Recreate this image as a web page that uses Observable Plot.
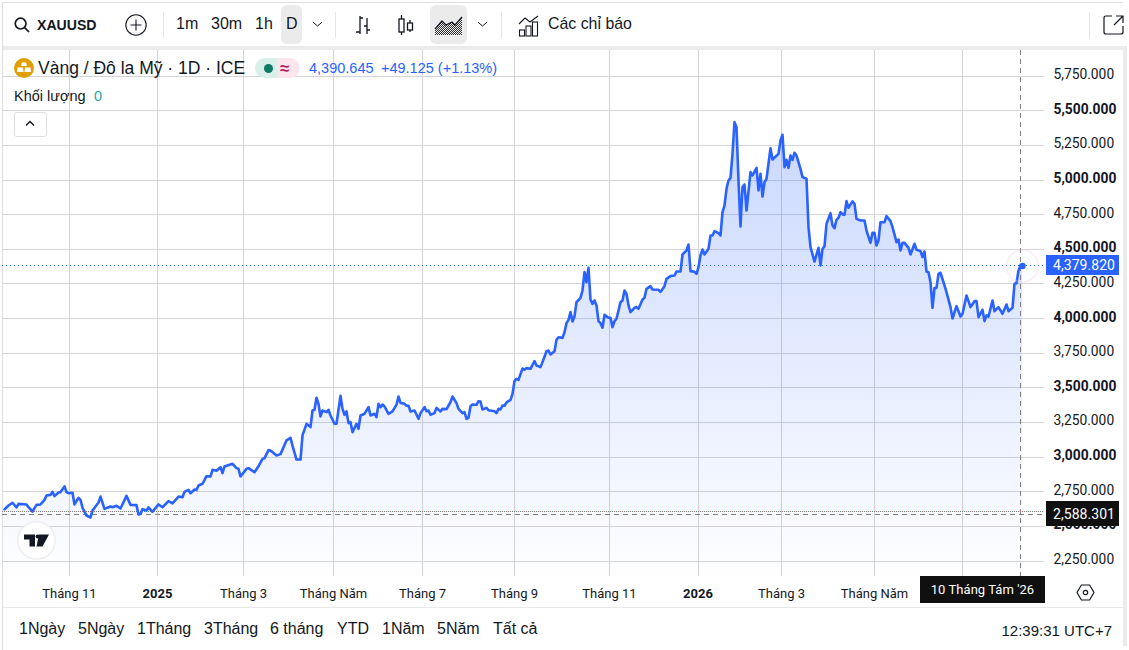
<!DOCTYPE html>
<html lang="vi">
<head>
<meta charset="utf-8">
<title>XAUUSD</title>
<script src="https://cdn.jsdelivr.net/npm/d3@7"></script>
<script src="https://cdn.jsdelivr.net/npm/@observablehq/plot@0.6"></script>
<style>
html,body{margin:0;padding:0;background:#fff;overflow:hidden}
body{font-family:"Liberation Sans",Arial,sans-serif;color:#131722}
#wrap{position:relative;width:1129px;height:650px;overflow:hidden}
#wrap svg{display:block}
#chart{position:absolute;left:0;top:50px}
.a{position:absolute;white-space:nowrap;line-height:1}
.box{position:absolute}
.btn{font-size:16px;top:16px}
.rng{font-size:16px;top:621px}
.tag{position:absolute;display:flex;align-items:center;justify-content:center;color:#fff;font:14px Roboto,sans-serif;letter-spacing:.05px;padding-left:3px;box-sizing:border-box}
.ic{position:absolute;overflow:visible}
</style>
</head>
<body>
<div id="wrap">
  <div class="box" style="left:2px;top:2px;width:1121px;height:1px;background:#e0e0e0"></div>
  <div class="box" style="left:2px;top:46px;width:1125px;height:4px;background:#ebebeb"></div>
  <div class="box" style="left:1123px;top:46px;width:4px;height:600px;background:#ebebeb"></div>
  <div class="box" style="left:2px;top:2px;width:1px;height:648px;background:#e0e0e0"></div>
  <div id="chart"></div>
  <div class="box" style="left:3px;top:607px;width:1120px;height:1px;background:#e8e8e8"></div>

  <svg class="ic" style="left:14px;top:17px" width="16" height="16" viewBox="0 0 16 16" fill="none" stroke="#131722" stroke-width="1.7"><circle cx="6.6" cy="6.6" r="5.4"/><path d="M10.6 10.6L15 15"/></svg>
  <div class="a" style="left:37px;top:18px;font-size:14.1px;font-weight:700">XAUUSD</div>
  <svg class="ic" style="left:125px;top:14px" width="22" height="22" viewBox="0 0 22 22" fill="none" stroke="#131722" stroke-width="1.1"><circle cx="11" cy="11" r="10.2"/><path d="M11 5.5V16.5M5.5 11H16.5"/></svg>
  <div class="box" style="left:163px;top:12px;width:1px;height:26px;background:#e6e6e6"></div>
  <div class="a btn" style="left:176px">1m</div>
  <div class="a btn" style="left:211px">30m</div>
  <div class="a btn" style="left:255px">1h</div>
  <div class="box" style="left:281px;top:5px;width:21px;height:39px;background:#ebebeb;border-radius:6px"></div>
  <div class="a btn" style="left:286px">D</div>
  <svg class="ic" style="left:312px;top:21px" width="11" height="7" fill="none" stroke="#131722" stroke-width="1"><path d="M1 1.2L5.5 5L10 1.2"/></svg>
  <div class="box" style="left:335px;top:12px;width:1px;height:26px;background:#e6e6e6"></div>
  <svg class="ic" style="left:354px;top:15px" width="18" height="21" fill="none" stroke="#131722" stroke-width="1.3"><path d="M6 1V19M6 3H9M2 17H6M13 3V19M10 11H13M13 15H16"/></svg>
  <svg class="ic" style="left:397px;top:14px" width="18" height="22" fill="none" stroke="#131722" stroke-width="1.3"><path d="M4.5 1V21M13 6V18"/><rect x="2" y="5" width="5" height="13" fill="#fff"/><rect x="10.5" y="9" width="5" height="7" fill="#fff"/></svg>
  <div class="box" style="left:430px;top:5px;width:37px;height:39px;background:#ebebeb;border-radius:6px"></div>
  <svg class="ic" style="left:434px;top:15px" width="29" height="21"><defs><pattern id="dit" width="2" height="2" patternUnits="userSpaceOnUse"><rect width="1" height="1" fill="#333"/><rect x="1" y="1" width="1" height="1" fill="#333"/></pattern></defs><path d="M1 14L8 6L12 10L18 7L21 10L28 2V20H1Z" fill="url(#dit)"/><path d="M1 14L8 6L12 10L18 7L21 10L28 2" fill="none" stroke="#131722" stroke-width="1.2"/></svg>
  <svg class="ic" style="left:477px;top:21px" width="11" height="7" fill="none" stroke="#131722" stroke-width="1"><path d="M1 1.2L5.5 5L10 1.2"/></svg>
  <div class="box" style="left:501px;top:12px;width:1px;height:26px;background:#e6e6e6"></div>
  <svg class="ic" style="left:518px;top:15px" width="21" height="22" fill="none" stroke="#131722" stroke-width="1.1"><path d="M1 9L7 3L12 7L20 1"/><rect x="1.5" y="15" width="5" height="6"/><rect x="8" y="11" width="5" height="10"/><rect x="14.5" y="7" width="5" height="14"/></svg>
  <div class="a" style="left:548px;top:16px;font-size:15.9px">Các chỉ báo</div>
  <div class="box" style="left:1089px;top:12px;width:1px;height:26px;background:#e6e6e6"></div>
  <svg class="ic" style="left:1103px;top:14px" width="22" height="22" fill="none" stroke="#131722" stroke-width="1.2"><path d="M9 2H3Q1 2 1 4V18Q1 20 3 20H18Q20 20 20 18V12M13 2H20V9M20 2L11 11"/></svg>

  <svg class="ic" style="left:14px;top:58px" width="20" height="20" viewBox="0 0 20 20"><circle cx="10" cy="10" r="10" fill="#e09f00"/><path d="M8 4.5H12L13 8H7ZM3.5 9.5H9L9.5 14H3ZM11 9.5H16.5L17 14H10.5Z" fill="#fff"/></svg>
  <div class="a" style="left:38px;top:60px;font-size:17.5px">Vàng / Đô la Mỹ · 1D · ICE</div>
  <div class="box" style="left:255px;top:58px;width:22px;height:20px;background:#d8efea;border-radius:10px 0 0 10px"></div>
  <div class="box" style="left:277px;top:58px;width:23px;height:20px;background:#fce6ee;border-radius:0 10px 10px 0"></div>
  <div class="box" style="left:264px;top:64px;width:9px;height:9px;background:#0d7a63;border-radius:50%"></div>
  <div class="a" style="left:280px;top:60px;font-size:17px;font-weight:700;color:#b5235e">≈</div>
  <div class="a" style="left:309px;top:61px;font-size:14.5px;color:#2962ff">4,390.645</div>
  <div class="a" style="left:381px;top:61px;font-size:14.5px;color:#2962ff">+49.125 (+1.13%)</div>
  <div class="a" style="left:14px;top:89px;font-size:14.5px">Khối lượng</div>
  <div class="a" style="left:94px;top:89px;font-size:14.5px;color:#26a69a">0</div>
  <div class="box" style="left:14px;top:112px;width:31px;height:23px;background:#fff;border:1px solid #e0e0e0;border-radius:3px"></div>
  <svg class="ic" style="left:25px;top:120px" width="10" height="7" fill="none" stroke="#131722" stroke-width="1.5"><path d="M1 5.5L5 1.5L9 5.5"/></svg>

  <svg class="ic" style="left:17px;top:521px" width="39" height="39" viewBox="0 0 39 39"><circle cx="19.5" cy="19.5" r="18.7" fill="#fff" stroke="#ececec" stroke-width="1.3"/><path d="M7 13.5H18V25.5H12.5V18.5H7ZM22 13.5H32L25.5 25.5H19.5Z" fill="#131722"/><circle cx="20.6" cy="15.5" r="2" fill="#131722"/></svg>

  <div id="tags"></div>
  <svg class="ic" style="left:1076px;top:584px" width="19" height="17" fill="none" stroke="#131722" stroke-width="1.2"><path d="M1 8.5L5.4 1H13.6L18 8.5L13.6 16H5.4Z"/><circle cx="9.5" cy="8.5" r="2.2"/></svg>

  <div id="ranges"></div>
  <div class="a" style="right:17px;top:623px;font-size:15px">12:39:31 UTC+7</div>
</div>

<script>
const phien = [
  2,4,6,8,9,13,14,16,18,20,22,23,25,26,27,29,30,32,33,34,
  36,37,39,40,41,43,45,46,49,50,52,55,56,58,60,63,65,68,69,70,
  71,73,74,76,79,81,84,86,89,91,92,94,95,97,98,99,101,103,105,106,
  108,110,111,112,116,118,119,120,123,124,127,129,131,132,134,135,138,140,143,145,
  146,148,150,151,153,155,156,157,158,159,160,161,163,164,165,167,168,170,171,172,
  173,174,175,176,178,179,180,182,184,185,187,188,189,190,191,192,194,196,198,199,
  200,202,203,204,205,207,209,210,212,213,214,215,217,218,220,221,223,225,226,228,
  229,231,232,233,234,235,236,238,239,240,241,243,244,247,248,249,250,251,252,253,
  255,256,257,258,259,261,262,263,265,267,268,270,271,273,274,275,277,278,279,281,
  282,283,284,285,286,287,288,290,291,292,293,294,295,296,297,298,299,300,301,302,
  304,305,306,307,308,310,311,312,313,314,315,317,318,319,321,322,323,325,326,329,
  330,332,333,335,337,338,340,341,343,344,345,347,348,349,350,351,352,354,355,356,
  357,359,360,361,362,363,364,365,366,367,368,369,370,371,372,373,375,376,378,379,
  380,381,382,383,385,386,389,390,391,392,393,394,395,396,397,398,400,401,403,404,
  405,407,409,410,411,412,413,415,416,417,418,419,420,421,422,423,424,426,427,428,
  430,432,433,435,436,437,438,439,440,442,443,445,446,448,449,450,451,452,454,455,
  457,458,460,461,462,463,464,465,466,467,468,469,470,472,473,475,476,478,480,481,
  483,485,487,488,489,491,492,493,494,496,497,499,501,503,504,506,507,508,509,510,511
];
const giaDong = [
  2623,2651,2671,2637,2663,2659,2639,2608,2656,2659,2692,2724,2728,2750,2719,2745,2748,2789,2748,2740,
  2743,2659,2707,2692,2635,2579,2565,2615,2673,2716,2627,2644,2639,2649,2630,2721,2656,2654,2586,2591,
  2625,2615,2637,2606,2659,2639,2683,2666,2716,2711,2750,2764,2740,2767,2764,2796,2808,2863,2861,2909,
  2902,2928,2885,2933,2952,2921,2916,2861,2916,2921,2892,2935,2988,2993,3051,3048,3012,3022,3121,3140,
  3084,2983,2983,3157,3241,3217,3337,3342,3429,3385,3294,3337,3325,3342,3301,3241,3241,3443,3349,3306,
  3330,3246,3253,3181,3241,3205,3301,3313,3361,3301,3313,3289,3385,3361,3380,3366,3313,3330,3380,3438,
  3392,3385,3371,3371,3330,3337,3277,3318,3361,3332,3337,3306,3318,3356,3330,3349,3347,3397,3438,3390,
  3349,3318,3325,3277,3284,3368,3380,3378,3404,3402,3344,3356,3339,3332,3318,3349,3344,3373,3371,3395,
  3414,3457,3549,3566,3558,3640,3631,3643,3638,3693,3662,3650,3686,3765,3770,3741,3765,3847,3866,3861,
  3902,3967,3991,4047,3979,4016,4119,4150,4203,4336,4263,4367,4136,4107,4131,4095,3982,3967,3934,4027,
  4006,4006,3938,3982,3999,4119,4131,4203,4179,4095,4047,4078,4083,4071,4138,4150,4215,4234,4210,4208,
  4193,4234,4287,4307,4311,4340,4340,4463,4492,4535,4343,4338,4323,4371,4456,4499,4463,4504,4600,4600,
  4631,4617,4600,4768,4816,4937,4997,5016,5189,5418,5382,4997,4665,4949,4968,4780,5057,5033,5088,4925,
  5045,4881,4985,5009,5230,5148,5189,5286,5327,5093,5146,5088,5177,5146,5197,5177,5081,5021,5009,4660,
  4516,4412,4511,4384,4504,4521,4684,4761,4672,4653,4713,4728,4768,4752,4749,4848,4800,4846,4829,4720,
  4708,4708,4636,4547,4619,4619,4528,4564,4696,4696,4740,4704,4660,4552,4571,4492,4547,4547,4511,4463,
  4540,4497,4487,4444,4485,4340,4335,4263,4078,4220,4222,4323,4331,4239,4191,4083,4001,4090,4015,4035,
  4167,4083,4126,4126,4011,4064,3982,4023,4015,4131,4054,4083,4035,4102,4054,4078,4251,4256,4347,4384,4380
];
const mocThang = [34.5,121.5,166.5,211,257,304.5,390.5,437];
const nhanThang = ["Tháng 11","Tháng 3","Tháng Năm","Tháng 7","Tháng 9","Tháng 11","Tháng 3","Tháng Năm"];
const mocNam = [78.5,348.75];
const nhanNam = ["2025","2026"];
const mocAn = [481];
const mocGiaThuong = [2250,2750,3250,3750,4250,4750,5250,5750];
const mocGiaDam = [2500,3000,3500,4000,4500,5000,5500];
const giaCuoi = 4379.82;
const giaTroChuot = 2588.301;
const giaBid = 2610;
const phienTroChuot = 510;
const nhanNgay = "10 Tháng Tám '26";
const khoangThoiGian = ["1Ngày","5Ngày","1Tháng","3Tháng","6 tháng","YTD","1Năm","5Năm","Tất cả"];
const viTriKhoang = [19,78,137,204,270,337,382,437,493];

const duLieu = phien.map((p,i)=>({p,gia:giaDong[i]}));
const dangSo = d3.format(",.3f");
const defs = () => {
  const d = d3.create("svg:defs");
  const g = d.append("linearGradient").attr("id","to").attr("x1",0).attr("y1",0).attr("x2",0).attr("y2",1);
  g.append("stop").attr("offset","0%").attr("stop-color","#2962ff").attr("stop-opacity",0.25);
  g.append("stop").attr("offset","100%").attr("stop-color","#2962ff").attr("stop-opacity",0.005);
  return d.node();
};
const kieuChu = {fontFamily:"Roboto,sans-serif",fontSize:13.8,fill:"#131722"};
const moiTick = [...mocThang,...mocNam,...mocAn];
const dsNhan = new Map([...mocThang.map((m,i)=>[m,nhanThang[i]]),...mocNam.map((m,i)=>[m,nhanNam[i]])]);
const net = {shapeRendering:"crispEdges"};
const chart = Plot.plot({
  width:1129,height:558,marginLeft:2,marginRight:85,marginTop:0,marginBottom:32,
  style:{background:"transparent",overflow:"visible"},
  x:{domain:[1,522],axis:null},
  y:{domain:[2139,5935],axis:null},
  marks:[
    defs,
    Plot.gridX(moiTick,{stroke:"#d4d4d8",strokeOpacity:1,...net}),
    Plot.gridY([...mocGiaThuong,...mocGiaDam],{stroke:"#d4d4d8",strokeOpacity:1,...net}),
    Plot.areaY(duLieu,{x:"p",y1:2139,y2:"gia",fill:"url(#to)"}),
    Plot.ruleY([giaCuoi],{stroke:"#2962ff",strokeDasharray:"1 3",...net}),
    Plot.ruleY([giaBid],{stroke:"#f7525f",strokeDasharray:"1 3",...net}),
    Plot.ruleY([giaBid],{stroke:"#22ab94",strokeDasharray:"1 3",strokeDashoffset:2,...net}),
    Plot.ruleY([giaTroChuot],{stroke:"#7f7f7f",strokeDasharray:"5 4",...net}),
    Plot.ruleX([phienTroChuot],{stroke:"#7f7f7f",strokeDasharray:"5 4",...net}),
    Plot.line(duLieu,{x:"p",y:"gia",stroke:"#2962ff",strokeWidth:2.6,strokeLinejoin:"round"}),
    Plot.dot([duLieu[duLieu.length-1]],{x:"p",y:"gia",r:16,fill:"#2962ff",fillOpacity:0.015,stroke:"#f7c6cf",strokeOpacity:.3}),
    Plot.dot([duLieu[duLieu.length-1]],{x:"p",y:"gia",r:3.2,fill:"#2962ff"}),
    Plot.axisY(mocGiaThuong,{anchor:"right",tickSize:0,tickPadding:9,dy:-1.5,tickFormat:dangSo,label:null,...kieuChu}),
    Plot.axisY(mocGiaDam,{anchor:"right",tickSize:0,tickPadding:9,dy:-1.5,tickFormat:dangSo,label:null,fontWeight:700,...kieuChu}),
    Plot.axisX(mocThang,{anchor:"bottom",tickSize:0,tickPadding:12,tickFormat:d=>dsNhan.get(d),label:null,...kieuChu,fontSize:13}),
    Plot.axisX(mocNam,{anchor:"bottom",tickSize:0,tickPadding:12,tickFormat:d=>dsNhan.get(d),label:null,fontWeight:700,...kieuChu,fontSize:13})
  ]
});
document.getElementById("chart").append(chart);

const tags = document.getElementById("tags");
const y = chart.scale("y");
function nhanGia(v,nen){
  const e=document.createElement("div");
  const h = nen==="#101010"?25:20;
  e.className="tag";e.textContent=dangSo(v);
  e.style.cssText+=`left:1046px;width:73px;height:${h}px;top:${50+y.apply(v)-h/2}px;background:${nen}`;
  tags.append(e);
}
nhanGia(giaCuoi,"#2962ff");
nhanGia(giaTroChuot,"#101010");
const t=document.createElement("div");
t.className="tag";t.textContent=nhanNgay;
t.style.cssText+="left:920px;width:125px;top:576px;height:27px;background:#101010;font-size:13px;padding-left:0";
tags.append(t);

const rg=document.getElementById("ranges");
khoangThoiGian.forEach((k,i)=>{
  const e=document.createElement("div");
  e.className="a rng";e.textContent=k;e.style.left=viTriKhoang[i]+"px";
  rg.append(e);
});
</script>
</body>
</html>
